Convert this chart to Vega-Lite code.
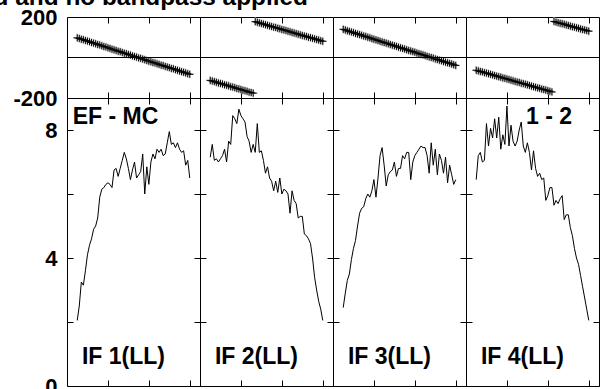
{
"$schema": "https://vega.github.io/schema/vega-lite/v6.json",
"background": "white",
"padding": {"left": -20, "top": -15, "right": 0, "bottom": 0},
"title": {"text": "ed and no bandpass applied", "anchor": "start", "frame": "group", "dx": -87, "offset": -5, "font": "Liberation Sans", "fontWeight": "bold", "fontSize": 24.4, "color": "black"},
"datasets": {
"lab": [
{"p": 1, "name": "IF 1(LL)", "base": "EF - MC"},
{"p": 2, "name": "IF 2(LL)", "base": ""},
{"p": 3, "name": "IF 3(LL)", "base": ""},
{"p": 4, "name": "IF 4(LL)", "base": "1 - 2"}
],
"line0": [{"v": 0}],
"d": [
{"p":1,"ch":5,"amp":2.05,"ph":97},{"p":1,"ch":6,"amp":2.5,"ph":94},{"p":1,"ch":7,"amp":3.25,"ph":90},{"p":1,"ch":8,"amp":3.15,"ph":88},{"p":1,"ch":9,"amp":3.6,"ph":84},{"p":1,"ch":10,"amp":4.1,"ph":81},{"p":1,"ch":11,"amp":4.4,"ph":78},{"p":1,"ch":12,"amp":4.6,"ph":74},{"p":1,"ch":13,"amp":4.9,"ph":71},{"p":1,"ch":14,"amp":5.0,"ph":68},{"p":1,"ch":15,"amp":5.25,"ph":64},{"p":1,"ch":16,"amp":5.9,"ph":62},{"p":1,"ch":17,"amp":6.15,"ph":58},{"p":1,"ch":18,"amp":6.2,"ph":54},{"p":1,"ch":19,"amp":6.3,"ph":52},{"p":1,"ch":20,"amp":6.35,"ph":48},{"p":1,"ch":21,"amp":6.3,"ph":45},{"p":1,"ch":22,"amp":6.2,"ph":41},{"p":1,"ch":23,"amp":6.75,"ph":38},{"p":1,"ch":24,"amp":6.8,"ph":35},{"p":1,"ch":25,"amp":6.55,"ph":31},{"p":1,"ch":26,"amp":6.8,"ph":29},{"p":1,"ch":27,"amp":7.05,"ph":25},{"p":1,"ch":28,"amp":7.3,"ph":21},{"p":1,"ch":29,"amp":7.1,"ph":19},{"p":1,"ch":30,"amp":6.8,"ph":15},{"p":1,"ch":31,"amp":6.45,"ph":12},{"p":1,"ch":32,"amp":6.75,"ph":8},{"p":1,"ch":33,"amp":7.0,"ph":5},{"p":1,"ch":34,"amp":6.5,"ph":2},{"p":1,"ch":35,"amp":6.6,"ph":-2},{"p":1,"ch":36,"amp":6.7,"ph":-4},{"p":1,"ch":37,"amp":7.25,"ph":-8},{"p":1,"ch":38,"amp":6.0,"ph":-11},{"p":1,"ch":39,"amp":6.85,"ph":-15},{"p":1,"ch":40,"amp":6.3,"ph":-18},{"p":1,"ch":41,"amp":7.0,"ph":-21},{"p":1,"ch":42,"amp":7.25,"ph":-25},{"p":1,"ch":43,"amp":7.1,"ph":-27},{"p":1,"ch":44,"amp":7.4,"ph":-31},{"p":1,"ch":45,"amp":7.3,"ph":-34},{"p":1,"ch":46,"amp":7.4,"ph":-38},{"p":1,"ch":47,"amp":7.2,"ph":-40},{"p":1,"ch":48,"amp":7.25,"ph":-44},{"p":1,"ch":49,"amp":7.6,"ph":-47},{"p":1,"ch":50,"amp":7.95,"ph":-50},{"p":1,"ch":51,"amp":7.55,"ph":-54},{"p":1,"ch":52,"amp":7.6,"ph":-56},{"p":1,"ch":53,"amp":7.45,"ph":-60},{"p":1,"ch":54,"amp":7.6,"ph":-63},{"p":1,"ch":55,"amp":7.4,"ph":-67},{"p":1,"ch":56,"amp":7.3,"ph":-70},{"p":1,"ch":57,"amp":7.35,"ph":-73},{"p":1,"ch":58,"amp":6.9,"ph":-76},{"p":1,"ch":59,"amp":7.05,"ph":-80},{"p":1,"ch":60,"amp":6.5,"ph":-83},
{"p":2,"ch":5,"amp":7.15,"ph":-113},{"p":2,"ch":6,"amp":7.55,"ph":-116},{"p":2,"ch":7,"amp":7.05,"ph":-119},{"p":2,"ch":8,"amp":7.1,"ph":-122},{"p":2,"ch":9,"amp":7.0,"ph":-126},{"p":2,"ch":10,"amp":7.1,"ph":-128},{"p":2,"ch":11,"amp":7.2,"ph":-131},{"p":2,"ch":12,"amp":7.4,"ph":-135},{"p":2,"ch":13,"amp":7.0,"ph":-137},{"p":2,"ch":14,"amp":7.65,"ph":-140},{"p":2,"ch":15,"amp":7.55,"ph":-144},{"p":2,"ch":16,"amp":8.45,"ph":-146},{"p":2,"ch":17,"amp":8.35,"ph":-149},{"p":2,"ch":18,"amp":8.2,"ph":-153},{"p":2,"ch":19,"amp":8.65,"ph":-155},{"p":2,"ch":20,"amp":8.45,"ph":-158},{"p":2,"ch":21,"amp":8.35,"ph":-162},{"p":2,"ch":22,"amp":8.25,"ph":-164},{"p":2,"ch":23,"amp":7.8,"ph":-167},{"p":2,"ch":24,"amp":7.65,"ph":-171},{"p":2,"ch":25,"amp":7.3,"ph":-173},{"p":2,"ch":26,"amp":7.55,"ph":-176},{"p":2,"ch":27,"amp":7.3,"ph":177},{"p":2,"ch":28,"amp":8.2,"ph":174},{"p":2,"ch":29,"amp":7.3,"ph":171},{"p":2,"ch":30,"amp":7.35,"ph":168},{"p":2,"ch":31,"amp":7.05,"ph":165},{"p":2,"ch":32,"amp":6.65,"ph":162},{"p":2,"ch":33,"amp":6.85,"ph":159},{"p":2,"ch":34,"amp":6.5,"ph":156},{"p":2,"ch":35,"amp":6.4,"ph":153},{"p":2,"ch":36,"amp":6.1,"ph":150},{"p":2,"ch":37,"amp":6.4,"ph":148},{"p":2,"ch":38,"amp":6.05,"ph":144},{"p":2,"ch":39,"amp":6.5,"ph":142},{"p":2,"ch":40,"amp":6.0,"ph":138},{"p":2,"ch":41,"amp":6.15,"ph":136},{"p":2,"ch":42,"amp":6.1,"ph":133},{"p":2,"ch":43,"amp":6.0,"ph":130},{"p":2,"ch":44,"amp":5.4,"ph":127},{"p":2,"ch":45,"amp":6.1,"ph":124},{"p":2,"ch":46,"amp":5.8,"ph":121},{"p":2,"ch":47,"amp":5.7,"ph":118},{"p":2,"ch":48,"amp":5.25,"ph":115},{"p":2,"ch":49,"amp":5.3,"ph":112},{"p":2,"ch":50,"amp":5.3,"ph":109},{"p":2,"ch":51,"amp":4.75,"ph":106},{"p":2,"ch":52,"amp":4.7,"ph":104},{"p":2,"ch":53,"amp":4.6,"ph":100},{"p":2,"ch":54,"amp":4.45,"ph":98},{"p":2,"ch":55,"amp":4.0,"ph":95},{"p":2,"ch":56,"amp":3.4,"ph":92},{"p":2,"ch":57,"amp":3.0,"ph":89},{"p":2,"ch":58,"amp":2.65,"ph":86},{"p":2,"ch":59,"amp":2.4,"ph":83},{"p":2,"ch":60,"amp":2.05,"ph":80},
{"p":3,"ch":5,"amp":2.45,"ph":139},{"p":3,"ch":6,"amp":2.9,"ph":136},{"p":3,"ch":7,"amp":3.3,"ph":132},{"p":3,"ch":8,"amp":3.5,"ph":129},{"p":3,"ch":9,"amp":3.95,"ph":126},{"p":3,"ch":10,"amp":4.3,"ph":123},{"p":3,"ch":11,"amp":4.55,"ph":119},{"p":3,"ch":12,"amp":5.0,"ph":116},{"p":3,"ch":13,"amp":5.4,"ph":113},{"p":3,"ch":14,"amp":5.55,"ph":110},{"p":3,"ch":15,"amp":5.6,"ph":106},{"p":3,"ch":16,"amp":5.85,"ph":104},{"p":3,"ch":17,"amp":6.0,"ph":100},{"p":3,"ch":18,"amp":5.9,"ph":97},{"p":3,"ch":19,"amp":6.1,"ph":93},{"p":3,"ch":20,"amp":6.45,"ph":90},{"p":3,"ch":21,"amp":5.9,"ph":87},{"p":3,"ch":22,"amp":6.5,"ph":84},{"p":3,"ch":23,"amp":7.2,"ph":80},{"p":3,"ch":24,"amp":7.45,"ph":77},{"p":3,"ch":25,"amp":6.9,"ph":74},{"p":3,"ch":26,"amp":6.25,"ph":71},{"p":3,"ch":27,"amp":6.6,"ph":68},{"p":3,"ch":28,"amp":6.7,"ph":64},{"p":3,"ch":29,"amp":6.75,"ph":61},{"p":3,"ch":30,"amp":7.0,"ph":58},{"p":3,"ch":31,"amp":6.55,"ph":55},{"p":3,"ch":32,"amp":6.8,"ph":51},{"p":3,"ch":33,"amp":6.8,"ph":48},{"p":3,"ch":34,"amp":7.2,"ph":45},{"p":3,"ch":35,"amp":7.1,"ph":42},{"p":3,"ch":36,"amp":7.3,"ph":38},{"p":3,"ch":37,"amp":7.3,"ph":35},{"p":3,"ch":38,"amp":6.45,"ph":32},{"p":3,"ch":39,"amp":7.0,"ph":29},{"p":3,"ch":40,"amp":7.2,"ph":26},{"p":3,"ch":41,"amp":7.3,"ph":22},{"p":3,"ch":42,"amp":7.4,"ph":19},{"p":3,"ch":43,"amp":7.5,"ph":16},{"p":3,"ch":44,"amp":7.45,"ph":13},{"p":3,"ch":45,"amp":7.45,"ph":10},{"p":3,"ch":46,"amp":7.2,"ph":6},{"p":3,"ch":47,"amp":6.65,"ph":3},{"p":3,"ch":48,"amp":7.6,"ph":0},{"p":3,"ch":49,"amp":6.9,"ph":-3},{"p":3,"ch":50,"amp":7.4,"ph":-7},{"p":3,"ch":51,"amp":6.6,"ph":-10},{"p":3,"ch":52,"amp":7.25,"ph":-13},{"p":3,"ch":53,"amp":7.05,"ph":-16},{"p":3,"ch":54,"amp":6.65,"ph":-20},{"p":3,"ch":55,"amp":7.15,"ph":-23},{"p":3,"ch":56,"amp":6.35,"ph":-26},{"p":3,"ch":57,"amp":6.9,"ph":-29},{"p":3,"ch":58,"amp":6.6,"ph":-32},{"p":3,"ch":59,"amp":6.3,"ph":-36},{"p":3,"ch":60,"amp":6.45,"ph":-39},
{"p":4,"ch":5,"amp":6.45,"ph":-63},{"p":4,"ch":6,"amp":7.2,"ph":-66},{"p":4,"ch":7,"amp":7.3,"ph":-69},{"p":4,"ch":8,"amp":7.0,"ph":-71},{"p":4,"ch":9,"amp":7.05,"ph":-75},{"p":4,"ch":10,"amp":8.2,"ph":-77},{"p":4,"ch":11,"amp":7.5,"ph":-80},{"p":4,"ch":12,"amp":8.05,"ph":-83},{"p":4,"ch":13,"amp":7.75,"ph":-86},{"p":4,"ch":14,"amp":8.35,"ph":-89},{"p":4,"ch":15,"amp":7.75,"ph":-92},{"p":4,"ch":16,"amp":8.4,"ph":-95},{"p":4,"ch":17,"amp":7.4,"ph":-97},{"p":4,"ch":18,"amp":7.85,"ph":-101},{"p":4,"ch":19,"amp":7.55,"ph":-103},{"p":4,"ch":20,"amp":8.75,"ph":-106},{"p":4,"ch":21,"amp":7.5,"ph":-109},{"p":4,"ch":22,"amp":8.15,"ph":-112},{"p":4,"ch":23,"amp":7.65,"ph":-115},{"p":4,"ch":24,"amp":7.5,"ph":-118},{"p":4,"ch":25,"amp":7.65,"ph":-121},{"p":4,"ch":26,"amp":8.0,"ph":-123},{"p":4,"ch":27,"amp":8.25,"ph":-127},{"p":4,"ch":28,"amp":7.5,"ph":-129},{"p":4,"ch":29,"amp":7.3,"ph":-132},{"p":4,"ch":30,"amp":7.6,"ph":-135},{"p":4,"ch":31,"amp":7.3,"ph":-138},{"p":4,"ch":32,"amp":6.75,"ph":-141},{"p":4,"ch":33,"amp":7.35,"ph":-144},{"p":4,"ch":34,"amp":6.8,"ph":-147},{"p":4,"ch":35,"amp":6.55,"ph":-150},{"p":4,"ch":36,"amp":6.65,"ph":-152},{"p":4,"ch":37,"amp":6.45,"ph":-156},{"p":4,"ch":38,"amp":6.5,"ph":-158},{"p":4,"ch":39,"amp":5.8,"ph":-161},{"p":4,"ch":40,"amp":5.95,"ph":-164},{"p":4,"ch":41,"amp":6.2,"ph":-167},{"p":4,"ch":42,"amp":6.2,"ph":-170},{"p":4,"ch":43,"amp":5.65,"ph":178},{"p":4,"ch":44,"amp":5.8,"ph":175},{"p":4,"ch":45,"amp":5.7,"ph":172},{"p":4,"ch":46,"amp":5.85,"ph":169},{"p":4,"ch":47,"amp":5.95,"ph":167},{"p":4,"ch":48,"amp":5.2,"ph":164},{"p":4,"ch":49,"amp":5.35,"ph":161},{"p":4,"ch":50,"amp":5.35,"ph":158},{"p":4,"ch":51,"amp":4.95,"ph":155},{"p":4,"ch":52,"amp":4.7,"ph":152},{"p":4,"ch":53,"amp":4.3,"ph":150},{"p":4,"ch":54,"amp":4.0,"ph":147},{"p":4,"ch":55,"amp":3.8,"ph":144},{"p":4,"ch":56,"amp":3.45,"ph":141},{"p":4,"ch":57,"amp":3.1,"ph":138},{"p":4,"ch":58,"amp":2.75,"ph":136},{"p":4,"ch":59,"amp":2.4,"ph":133},{"p":4,"ch":60,"amp":2.05,"ph":130}
]
},
"columns": 4,
"spacing": 0,
"bounds": "flush",
"concat": [
{"width":133,"height":81,"layer":[
 {"data":{"name":"d"},"transform":[{"filter":"datum.p==1"}],"mark":{"type":"point","shape":"M-1,0H1M0,-1V1","size":72,"stroke":"#c4c4c4","strokeWidth":1.5,"filled":false,"opacity":1},"encoding":{"x":{"field":"ch","type":"quantitative","scale":{"domain":[0,65]},"axis":{"orient":"top","values":[20,40,60],"labels":false,"title":null}},"y":{"field":"ph","type":"quantitative","scale":{"domain":[-200,200]},"axis":null}}},
 {"data":{"name":"d"},"transform":[{"filter":"datum.p==1"}],"mark":{"type":"point","shape":"M-1,0H1M0,-1V1","size":49,"stroke":"black","strokeWidth":1,"filled":false,"opacity":1},"encoding":{"x":{"field":"ch","type":"quantitative","axis":{"orient":"bottom","values":[20,40,60],"labels":false,"title":null}},"y":{"field":"ph","type":"quantitative","axis":{"orient":"left","values":[-200,200],"ticks":false,"labelPadding":10,"labelExpr":"replace(datum.label, '−', '-')","title":null}}}},
 {"data":{"name":"line0"},"mark":{"type":"rule","color":"black","strokeWidth":1},"encoding":{"y":{"field":"v","type":"quantitative","axis":null}}}
],"resolve":{"axis":{"x":"independent","y":"independent"}}},
{"width":133,"height":81,"layer":[
 {"data":{"name":"d"},"transform":[{"filter":"datum.p==2"}],"mark":{"type":"point","shape":"M-1,0H1M0,-1V1","size":72,"stroke":"#c4c4c4","strokeWidth":1.5,"filled":false,"opacity":1},"encoding":{"x":{"field":"ch","type":"quantitative","scale":{"domain":[0,65]},"axis":{"orient":"top","values":[20,40,60],"labels":false,"title":null}},"y":{"field":"ph","type":"quantitative","scale":{"domain":[-200,200]},"axis":null}}},
 {"data":{"name":"d"},"transform":[{"filter":"datum.p==2"}],"mark":{"type":"point","shape":"M-1,0H1M0,-1V1","size":49,"stroke":"black","strokeWidth":1,"filled":false,"opacity":1},"encoding":{"x":{"field":"ch","type":"quantitative","axis":{"orient":"bottom","values":[20,40,60],"labels":false,"title":null}},"y":{"field":"ph","type":"quantitative","axis":null}}},
 {"data":{"name":"line0"},"mark":{"type":"rule","color":"black","strokeWidth":1},"encoding":{"y":{"field":"v","type":"quantitative","axis":null}}}
],"resolve":{"axis":{"x":"independent","y":"independent"}}},
{"width":133,"height":81,"layer":[
 {"data":{"name":"d"},"transform":[{"filter":"datum.p==3"}],"mark":{"type":"point","shape":"M-1,0H1M0,-1V1","size":72,"stroke":"#c4c4c4","strokeWidth":1.5,"filled":false,"opacity":1},"encoding":{"x":{"field":"ch","type":"quantitative","scale":{"domain":[0,65]},"axis":{"orient":"top","values":[20,40,60],"labels":false,"title":null}},"y":{"field":"ph","type":"quantitative","scale":{"domain":[-200,200]},"axis":null}}},
 {"data":{"name":"d"},"transform":[{"filter":"datum.p==3"}],"mark":{"type":"point","shape":"M-1,0H1M0,-1V1","size":49,"stroke":"black","strokeWidth":1,"filled":false,"opacity":1},"encoding":{"x":{"field":"ch","type":"quantitative","axis":{"orient":"bottom","values":[20,40,60],"labels":false,"title":null}},"y":{"field":"ph","type":"quantitative","axis":null}}},
 {"data":{"name":"line0"},"mark":{"type":"rule","color":"black","strokeWidth":1},"encoding":{"y":{"field":"v","type":"quantitative","axis":null}}}
],"resolve":{"axis":{"x":"independent","y":"independent"}}},
{"width":133,"height":81,"layer":[
 {"data":{"name":"d"},"transform":[{"filter":"datum.p==4"}],"mark":{"type":"point","shape":"M-1,0H1M0,-1V1","size":72,"stroke":"#c4c4c4","strokeWidth":1.5,"filled":false,"opacity":1},"encoding":{"x":{"field":"ch","type":"quantitative","scale":{"domain":[0,65]},"axis":{"orient":"top","values":[20,40,60],"labels":false,"title":null}},"y":{"field":"ph","type":"quantitative","scale":{"domain":[-200,200]},"axis":null}}},
 {"data":{"name":"d"},"transform":[{"filter":"datum.p==4"}],"mark":{"type":"point","shape":"M-1,0H1M0,-1V1","size":49,"stroke":"black","strokeWidth":1,"filled":false,"opacity":1},"encoding":{"x":{"field":"ch","type":"quantitative","axis":{"orient":"bottom","values":[20,40,60],"labels":false,"title":null}},"y":{"field":"ph","type":"quantitative","axis":null}}},
 {"data":{"name":"line0"},"mark":{"type":"rule","color":"black","strokeWidth":1},"encoding":{"y":{"field":"v","type":"quantitative","axis":null}}}
],"resolve":{"axis":{"x":"independent","y":"independent"}}},
{"width":133,"height":288,"layer":[
 {"data":{"name":"d"},"transform":[{"filter":"datum.p==1"}],"mark":{"type":"line","color":"black","strokeWidth":1},"encoding":{"x":{"field":"ch","type":"quantitative","scale":{"domain":[0,65]},"axis":{"orient":"bottom","values":[20,40,60],"labels":false,"title":null}},"y":{"field":"amp","type":"quantitative","scale":{"domain":[0,9]},"axis":{"orient":"left","values":[0,2,4,6,8],"labelExpr":"datum.value % 4 == 0 ? datum.label : ''","labelPadding":16,"title":null}}}},
 {"data":{"name":"lab"},"transform":[{"filter":"datum.p==1"}],"mark":{"type":"text","align":"left","baseline":"alphabetic","font":"Liberation Sans","fontWeight":"bold","fontSize":23,"color":"black"},"encoding":{"x":{"datum":7.3,"type":"quantitative","axis":{"orient":"top","values":[20,40,60],"labels":false,"title":null}},"y":{"datum":0.69,"type":"quantitative","axis":{"orient":"right","values":[0,2,4,6,8],"labels":false,"title":null}},"text":{"field":"name"}}},
 {"data":{"name":"lab"},"transform":[{"filter":"datum.p==1"}],"mark":{"type":"text","align":"left","baseline":"alphabetic","font":"Liberation Sans","fontWeight":"bold","fontSize":23,"color":"black"},"encoding":{"x":{"datum":2.8,"type":"quantitative","axis":null},"y":{"datum":8.18,"type":"quantitative","axis":null},"text":{"field":"base"}}}
],"resolve":{"axis":{"x":"independent","y":"independent"}}},
{"width":133,"height":288,"layer":[
 {"data":{"name":"d"},"transform":[{"filter":"datum.p==2"}],"mark":{"type":"line","color":"black","strokeWidth":1},"encoding":{"x":{"field":"ch","type":"quantitative","scale":{"domain":[0,65]},"axis":{"orient":"bottom","values":[20,40,60],"labels":false,"title":null}},"y":{"field":"amp","type":"quantitative","scale":{"domain":[0,9]},"axis":{"orient":"left","values":[0,2,4,6,8],"labels":false,"title":null}}}},
 {"data":{"name":"lab"},"transform":[{"filter":"datum.p==2"}],"mark":{"type":"text","align":"left","baseline":"alphabetic","font":"Liberation Sans","fontWeight":"bold","fontSize":23,"color":"black"},"encoding":{"x":{"datum":7.3,"type":"quantitative","axis":{"orient":"top","values":[20,40,60],"labels":false,"title":null}},"y":{"datum":0.69,"type":"quantitative","axis":{"orient":"right","values":[0,2,4,6,8],"labels":false,"title":null}},"text":{"field":"name"}}}
],"resolve":{"axis":{"x":"independent","y":"independent"}}},
{"width":133,"height":288,"layer":[
 {"data":{"name":"d"},"transform":[{"filter":"datum.p==3"}],"mark":{"type":"line","color":"black","strokeWidth":1},"encoding":{"x":{"field":"ch","type":"quantitative","scale":{"domain":[0,65]},"axis":{"orient":"bottom","values":[20,40,60],"labels":false,"title":null}},"y":{"field":"amp","type":"quantitative","scale":{"domain":[0,9]},"axis":{"orient":"left","values":[0,2,4,6,8],"labels":false,"title":null}}}},
 {"data":{"name":"lab"},"transform":[{"filter":"datum.p==3"}],"mark":{"type":"text","align":"left","baseline":"alphabetic","font":"Liberation Sans","fontWeight":"bold","fontSize":23,"color":"black"},"encoding":{"x":{"datum":7.3,"type":"quantitative","axis":{"orient":"top","values":[20,40,60],"labels":false,"title":null}},"y":{"datum":0.69,"type":"quantitative","axis":{"orient":"right","values":[0,2,4,6,8],"labels":false,"title":null}},"text":{"field":"name"}}}
],"resolve":{"axis":{"x":"independent","y":"independent"}}},
{"width":133,"height":288,"layer":[
 {"data":{"name":"d"},"transform":[{"filter":"datum.p==4"}],"mark":{"type":"line","color":"black","strokeWidth":1},"encoding":{"x":{"field":"ch","type":"quantitative","scale":{"domain":[0,65]},"axis":{"orient":"bottom","values":[20,40,60],"labels":false,"title":null}},"y":{"field":"amp","type":"quantitative","scale":{"domain":[0,9]},"axis":{"orient":"left","values":[0,2,4,6,8],"labels":false,"title":null}}}},
 {"data":{"name":"lab"},"transform":[{"filter":"datum.p==4"}],"mark":{"type":"text","align":"left","baseline":"alphabetic","font":"Liberation Sans","fontWeight":"bold","fontSize":23,"color":"black"},"encoding":{"x":{"datum":7.3,"type":"quantitative","axis":{"orient":"top","values":[20,40,60],"labels":false,"title":null}},"y":{"datum":0.69,"type":"quantitative","axis":{"orient":"right","values":[0,2,4,6,8],"labels":false,"title":null}},"text":{"field":"name"}}},
 {"data":{"name":"lab"},"transform":[{"filter":"datum.p==4"}],"mark":{"type":"text","align":"right","baseline":"alphabetic","font":"Liberation Sans","fontWeight":"bold","fontSize":23,"color":"black"},"encoding":{"x":{"datum":51.8,"type":"quantitative","axis":null},"y":{"datum":8.18,"type":"quantitative","axis":null},"text":{"field":"base"}}}
],"resolve":{"axis":{"x":"independent","y":"independent"}}}
],
"config": {
 "view": {"stroke": "black", "strokeWidth": 1},
 "axis": {"domain": false, "grid": false, "tickColor": "black", "tickSize": -6, "tickWidth": 1, "labelFont": "Liberation Sans", "labelFontWeight": "bold", "labelFontSize": 22, "labelColor": "black", "labelFlush": false, "labelOverlap": false, "minExtent": 0, "maxExtent": 0}
}
}
